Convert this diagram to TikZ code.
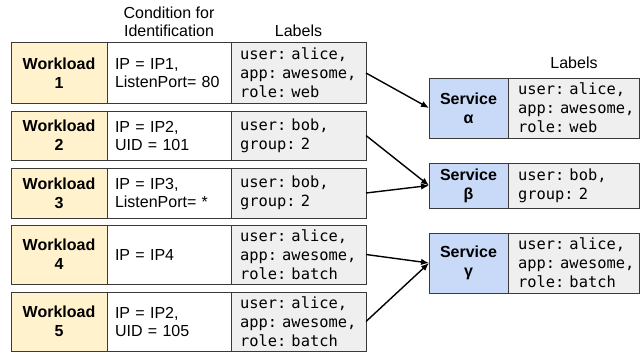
\documentclass[tikz,border=0pt]{standalone}
\usepackage{fontspec}
\setmainfont{Liberation Sans}
\newfontfamily\lblmono{DejaVu Sans Mono}
\usetikzlibrary{arrows.meta}
\definecolor{wlfill}{HTML}{FFF2CC}
\definecolor{svfill}{HTML}{C9DAF8}
\definecolor{lbfill}{HTML}{EFEFEF}
\definecolor{edgec}{HTML}{3A3A3A}
\newcommand{\monofix}{\frenchspacing\spaceskip=\fontdimen2\font plus 0pt minus 0pt\relax\xspaceskip=\spaceskip\hyphenpenalty=10000\hbadness=10000\hfuzz=20pt\relax}
\begin{document}
\begin{tikzpicture}[x=1pt,y=-1pt,
  cell/.style={draw=edgec, line width=1pt, anchor=north west, inner sep=0pt, outer sep=0pt},
  wl/.style={cell, fill=wlfill, minimum width=96pt, text width=96pt, align=center, font=\fontsize{16}{19}\selectfont\bfseries},
  sv/.style={cell, fill=svfill, minimum width=79pt, text width=79pt, align=center, font=\fontsize{16}{19}\selectfont\bfseries},
  cond/.style={cell, fill=white, minimum width=124pt, text width=108pt, align=left, font=\fontsize{16}{18}\selectfont},
  lbl/.style={cell, fill=lbfill, minimum width=135pt, text width=117pt, align=left,
    font=\lblmono\fontsize{15.4}{19}\selectfont\monofix},
  slbl/.style={lbl, minimum width=131pt, text width=111pt},
  hdr/.style={anchor=base, inner sep=0pt, font=\fontsize{16}{18}\selectfont},
  arr/.style={line width=1.4pt, -{Latex[length=8pt,width=6.5pt]}}
]
\useasboundingbox (0,0) rectangle (644,353);

% headers
\node[hdr] (hc1) at (169,19) {Condition for};
\node[hdr] (hc2) at (169,37) {Identification};
\node[hdr] (hl) at (298.5,37) {Labels};
\node[hdr] (hsl) at (574,68) {Labels};

% row 1
\node[wl, minimum height=60pt] (w1) at (11,43) {Workload\\1};
\node[cond, minimum height=60pt] (c1) at (107,43) {IP = IP1,\\ListenPort= 80};
\node[lbl, minimum height=60pt] (l1) at (231,43) {user:~alice,\\app:~awesome,\\role:~web};
% row 2
\node[wl, minimum height=49pt] (w2) at (11,111) {Workload\\2};
\node[cond, minimum height=49pt] (c2) at (107,111) {IP = IP2,\\UID = 101};
\node[lbl, minimum height=49pt] (l2) at (231,111) {user:~bob,\\group:~2};
% row 3
\node[wl, minimum height=50pt] (w3) at (11,168) {Workload\\3};
\node[cond, minimum height=50pt] (c3) at (107,168) {IP = IP3,\\ListenPort= *};
\node[lbl, minimum height=50pt] (l3) at (231,168) {user:~bob,\\group:~2};
% row 4
\node[wl, minimum height=59pt] (w4) at (11,225) {Workload\\4};
\node[cond, minimum height=59pt] (c4) at (107,225) {IP = IP4};
\node[lbl, minimum height=59pt] (l4) at (231,225) {user:~alice,\\app:~awesome,\\role:~batch};
% row 5
\node[wl, minimum height=59pt] (w5) at (11,292) {Workload\\5};
\node[cond, minimum height=59pt] (c5) at (107,292) {IP = IP2,\\UID = 105};
\node[lbl, minimum height=59pt] (l5) at (231,292) {user:~alice,\\app:~awesome,\\role:~batch};

% services
\node[sv, minimum height=60pt] (sa) at (429,78) {Service\\α};
\node[slbl, minimum height=60pt] (la) at (508,78) {user:~alice,\\app:~awesome,\\role:~web};
\node[sv, minimum height=45pt] (sb) at (429,163) {Service\\β};
\node[slbl, minimum height=45pt] (lb) at (508,163) {user:~bob,\\group:~2};
\node[sv, minimum height=60pt] (sc) at (429,233) {Service\\γ};
\node[slbl, minimum height=60pt] (lc) at (508,233) {user:~alice,\\app:~awesome,\\role:~batch};

% connectors
\draw[arr] (l1.east) -- (sa.west);
\draw[arr] (l2.east) -- (sb.west);
\draw[arr] (l3.east) -- (sb.west);
\draw[arr] (l4.east) -- (sc.west);
\draw[arr] (l5.east) -- (sc.west);
\end{tikzpicture}
\end{document}
